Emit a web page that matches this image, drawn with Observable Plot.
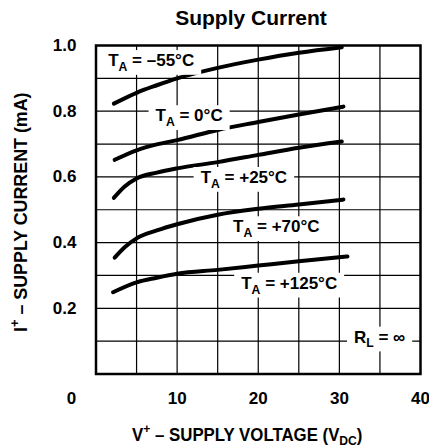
<!DOCTYPE html>
<html><head><meta charset="utf-8">
<script src="https://cdn.jsdelivr.net/npm/d3@7"></script>
<script src="https://cdn.jsdelivr.net/npm/@observablehq/plot@0.6"></script>
<style>
body{margin:0;background:#fff;}
#title{width:429px;height:34px;box-sizing:border-box;padding:7px 0 0 73px;text-align:center;font:bold 21px/21px 'Liberation Sans',Arial,sans-serif;color:#000;}
</style></head><body>
<div id="title">Supply Current</div>
<div id="chart"></div>
<script>
// ---- data ----
const temps = ["-55", "0", "+25", "+70", "+125"];
const voltsM55 = [2.2, 5, 7.5, 10, 15, 20, 25, 30.3];
const currentM55 = [0.823, 0.856, 0.879, 0.900, 0.932, 0.957, 0.978, 0.995];
const volts0 = [2.3, 5, 7.5, 10, 15, 20, 25, 30.5];
const current0 = [0.652, 0.681, 0.699, 0.712, 0.743, 0.767, 0.790, 0.814];
const volts25 = [2.2, 3.5, 5, 7.5, 10, 15, 20, 25, 30.3];
const current25 = [0.536, 0.570, 0.595, 0.613, 0.626, 0.645, 0.667, 0.689, 0.708];
const volts70 = [2.3, 3.5, 5, 7.5, 10, 15, 20, 25, 30.5];
const current70 = [0.354, 0.385, 0.413, 0.437, 0.456, 0.485, 0.503, 0.516, 0.531];
const volts125 = [2.1, 5, 7.5, 10, 15, 20, 25, 31];
const current125 = [0.249, 0.279, 0.293, 0.305, 0.317, 0.330, 0.343, 0.358];

const labelText = ["T_{A} = –55°C", "T_{A} = 0°C", "T_{A} = +25°C", "T_{A} = +70°C", "T_{A} = +125°C", "R_{L} = ∞"];
const labelV = [1.5, 7.34, 12.9, 16.9, 17.9, 31.8];
const labelI = [0.954, 0.786, 0.598, 0.448, 0.276, 0.112];

const gridV = [5, 10, 15, 20, 25, 30, 35];
const gridI = [0.1, 0.2, 0.3, 0.4, 0.5, 0.6, 0.7, 0.8, 0.9];
const xTicks = [10, 20, 30, 40];
const yTicks = [0.2, 0.4, 0.6, 0.8, 1.0];
const originLabel = [0];
const xTitle = "V^{+} – SUPPLY VOLTAGE (V_{DC})";
const yTitle = "I^{+} – SUPPLY CURRENT (mA)";

// ---- build tables ----
const seriesV = [voltsM55, volts0, volts25, volts70, volts125];
const seriesI = [currentM55, current0, current25, current70, current125];
const curveRows = [];
temps.forEach((t, k) => seriesV[k].forEach((v, j) => curveRows.push({t, v, i: seriesI[k][j]})));
const labelRows = labelText.map((label, k) => ({label, v: labelV[k], i: labelI[k]}));

const FONT = "'Liberation Sans',Arial,Helvetica,sans-serif";

const plot = Plot.plot({
  width: 429, height: 413,
  marginTop: 11, marginBottom: 73.5, marginLeft: 95.5, marginRight: 9,
  style: {fontFamily: FONT, fontSize: "17px", fontWeight: "bold", background: "#fff", color: "#000", overflow: "visible"},
  x: {domain: [0, 40], ticks: xTicks, tickSize: 0, tickPadding: 18, label: null},
  y: {domain: [0, 1], ticks: yTicks, tickSize: 0, tickPadding: 19.5, tickFormat: d3.format(".1f"), label: null},
  marks: [
    Plot.ruleX(gridV, {stroke: "#000", strokeWidth: 1.2}),
    Plot.ruleY(gridI, {stroke: "#000", strokeWidth: 1.2}),
    Plot.line(curveRows, {x: "v", y: "i", z: "t", stroke: "#000", strokeWidth: 4, curve: "monotone-x", strokeLinecap: "round"}),
    Plot.text(labelRows, {x: "v", y: "i", text: "label", textAnchor: "start", lineAnchor: "middle", fill: "#000", fontSize: 17}),
    Plot.text(originLabel, {x: d => d, y: () => 0, text: d => String(d), dx: -24.5, dy: 25, fill: "#000", fontSize: 17}),
    Plot.text([xTitle], {frameAnchor: "bottom", text: d => d, textAnchor: "middle", lineAnchor: "middle", dx: -11, dy: 61, fill: "#000", fontSize: 19}),
    Plot.text([yTitle], {frameAnchor: "left", text: d => d, rotate: -90, textAnchor: "middle", lineAnchor: "middle", dx: -75.5, dy: 2.5, fill: "#000", fontSize: 19}),
    Plot.frame({stroke: "#000", strokeWidth: 2.5})
  ]
});
document.getElementById("chart").appendChild(plot);

// ---- rich text (sub/superscripts) ----
const NS = "http://www.w3.org/2000/svg";
function richify(t, fs, subShift) {
  const s = t.textContent;
  const re = /([_^])\{([^}]*)\}/g;
  t.textContent = "";
  let last = 0, m, shift = 0;
  function add(str, kind) {
    const ts = document.createElementNS(NS, "tspan");
    const target = kind === 1 ? subShift * fs : kind === -1 ? -0.42 * fs : 0;
    if (target - shift !== 0) ts.setAttribute("dy", (target - shift).toFixed(2));
    shift = target;
    if (kind) ts.setAttribute("font-size", (0.72 * fs).toFixed(1));
    ts.textContent = str;
    t.appendChild(ts);
  }
  while ((m = re.exec(s))) {
    if (m.index > last) add(s.slice(last, m.index), 0);
    add(m[2], m[1] === "_" ? 1 : -1);
    last = re.lastIndex;
  }
  if (last < s.length) add(s.slice(last), 0);
}
plot.querySelectorAll("text").forEach(t => {
  const raw = t.textContent;
  if (raw === xTitle || raw === yTitle) {
    richify(t, 19, 0.2);
    const tr = t.getAttribute("transform") || "";
    t.setAttribute("transform", tr + (raw === xTitle ? " scale(0.885,1)" : " scale(0.94,1)"));
  } else if (labelText.includes(raw)) {
    richify(t, 17, 0.28);
    const bb = t.getBBox();
    const r = document.createElementNS(NS, "rect");
    r.setAttribute("x", bb.x - 7);
    r.setAttribute("y", bb.y - 1);
    r.setAttribute("width", bb.width + 14);
    r.setAttribute("height", bb.height + 2);
    r.setAttribute("fill", "#fff");
    r.setAttribute("stroke", "none");
    const tr = t.getAttribute("transform");
    if (tr) r.setAttribute("transform", tr);
    t.parentNode.insertBefore(r, t);
  }
});
</script>
</body></html>
